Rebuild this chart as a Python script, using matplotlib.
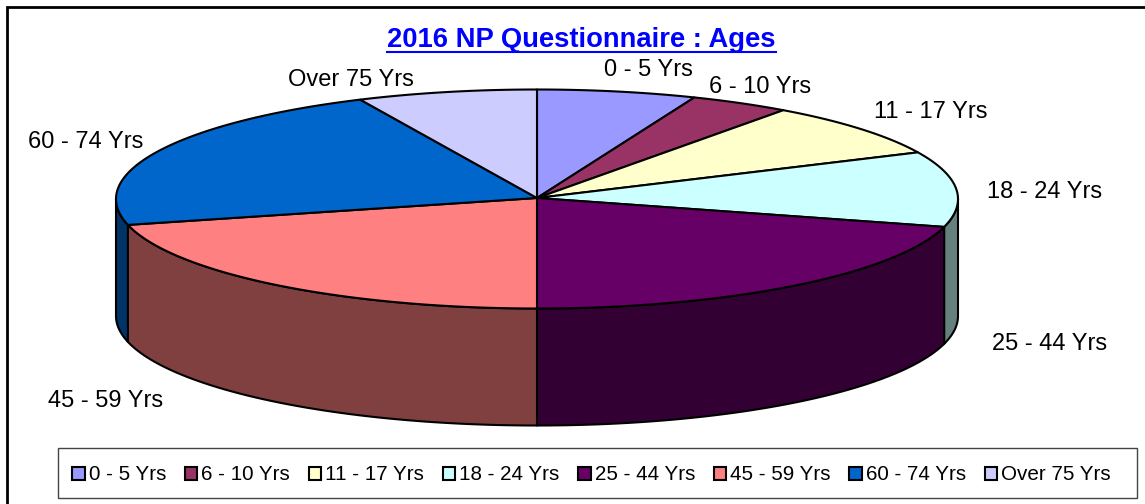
import numpy as np
import matplotlib
matplotlib.use("Agg")
import matplotlib.pyplot as plt
from matplotlib.patches import Polygon, Patch, Rectangle

plt.rcParams['font.family'] = ['Liberation Sans', 'DejaVu Sans']

labels = ['0 - 5 Yrs', '6 - 10 Yrs', '11 - 17 Yrs', '18 - 24 Yrs',
          '25 - 44 Yrs', '45 - 59 Yrs', '60 - 74 Yrs', 'Over 75 Yrs']
shares = [6.1, 3.85, 8.05, 11.1, 20.9, 21.2, 21.9, 6.9]
top_colors = ['#9999FF', '#993366', '#FFFFCC', '#CCFFFF',
              '#660066', '#FF8080', '#0066CC', '#CCCCFF']
side_colors = ['#4C4C80', '#4C1933', '#808066', '#668080',
               '#330033', '#804040', '#003366', '#666680']
label_x = [648, 760, 931, 1045, 1050, 106, 86, 351]
label_y = [70, 87, 112, 192, 344, 401, 142, 80]

cx, cy = 537, 199
apex_y = 198
rx, ry = 421, 109.5
depth = 117


def rim(a, b):
    t = np.radians(np.linspace(a, b, max(int(abs(b - a)) * 2, 2)))
    return cx + rx * np.sin(t), cy - ry * np.cos(t)


fig = plt.figure(figsize=(11.45, 5.04), dpi=100)
ax = fig.add_axes([0, 0, 1, 1])
ax.set_xlim(0, 1145)
ax.set_ylim(504, 0)
ax.axis('off')

ax.add_patch(Rectangle((6.5, 6.5), 1200, 600, fc='white', ec='black', lw=2))

edges = np.concatenate([[0], np.cumsum(shares)]) / sum(shares) * 360

# front wall first, then the top of each slice over it
for i in range(len(shares)):
    a = max(edges[i], 90)
    b = min(edges[i + 1], 270)
    if b <= a:
        continue
    x, y = rim(a, b)
    pts = np.vstack([np.c_[x, y], np.c_[x[::-1], y[::-1] + depth]])
    ax.add_patch(Polygon(pts, fc=side_colors[i], ec='black', lw=1.5, joinstyle='round'))

for i in range(len(shares)):
    x, y = rim(edges[i], edges[i + 1])
    pts = np.vstack([[cx, apex_y], np.c_[x, y]])
    ax.add_patch(Polygon(pts, fc=top_colors[i], ec='black', lw=1.5, joinstyle='round'))

for i in range(len(labels)):
    ax.text(label_x[i], label_y[i], labels[i], ha='center', va='center', fontsize=17, color='black')

title = ax.text(581.5, 40, '2016 NP Questionnaire : Ages', ha='center', va='center',
                fontsize=19.7, fontweight='bold', color='#0000FF')
fig.canvas.draw()
box = title.get_window_extent().transformed(ax.transData.inverted())
ax.plot([box.x0, box.x1], [52, 52], color='#0000FF', lw=1.5)

# legend frame is drawn on its own so the text can sit where it does in the original
ax.add_patch(Rectangle((58, 447.5), 1079, 50, fc='white', ec='#444444', lw=1))
handles = [Patch(fc=c, ec='black', lw=1.5) for c in top_colors]
leg = ax.legend(handles, labels, ncol=8, loc='center', bbox_to_anchor=(591.5, 475),
                bbox_transform=ax.transData, fontsize=14.9, frameon=False,
                handlelength=0.6, handleheight=0.6,
                handletextpad=0.2, columnspacing=0.9, borderpad=0, borderaxespad=0)

fig.savefig('out.png', dpi=100)
